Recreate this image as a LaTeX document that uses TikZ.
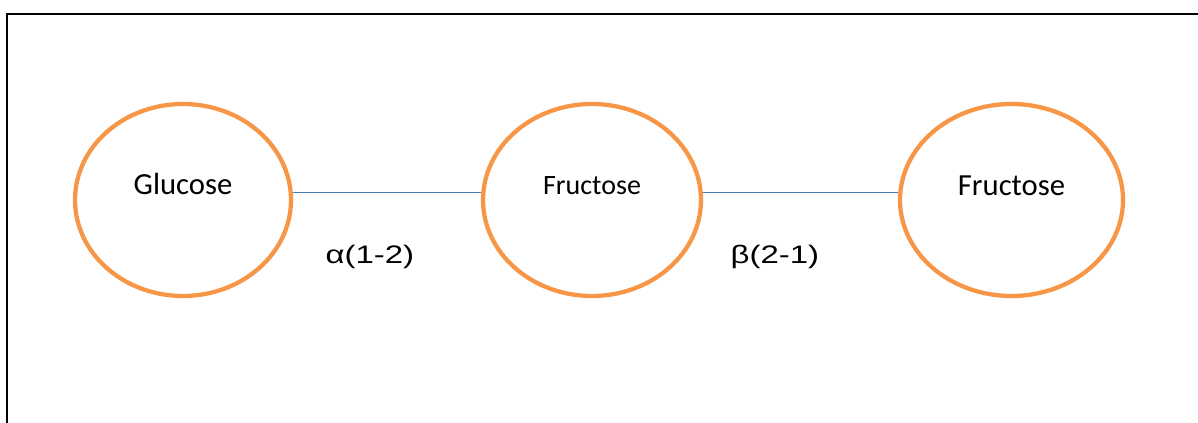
\documentclass[tikz,border=0pt]{standalone}
\usepackage{fontspec}
\setmainfont{Carlito}
\newfontfamily\arialfont{Liberation Sans}
\usetikzlibrary{shapes.geometric}
\definecolor{sugarorange}{HTML}{F79646}
\definecolor{linkblue}{HTML}{4A7EBB}
\newcommand{\widetext}[1]{\scalebox{1.3}[1]{#1}}
\tikzset{
  sugar/.style={shape=ellipse, draw=sugarorange, line width=3.2pt, inner sep=0pt, outer sep=1.6pt, fill=white},
  link/.style={draw=linkblue, line width=1.1pt},
  bondlbl/.style={font=\arialfont\fontsize{19}{22}\selectfont, anchor=base, inner sep=0pt},
  frameline/.style={line width=1.6pt, black},
}
\begin{document}
\begin{tikzpicture}[x=0.75pt,y=-0.75pt]
\useasboundingbox (0,0) rectangle (1198,423);
\clip (0,0) rectangle (1198,423);
\draw[frameline] (6.7,430) -- (6.7,14.2) -- (1210,14.2);
\node[sugar, minimum width=216*0.75pt, minimum height=192*0.75pt,
  label={[yshift=12pt, font=\fontsize{23}{28}\selectfont]center:Glucose}] (g) at (183,200) {};
\node[sugar, minimum width=218*0.75pt, minimum height=192*0.75pt,
  label={[yshift=10.5pt, font=\fontsize{21}{26}\selectfont]center:Fructose}] (f1) at (592,200) {};
\node[sugar, minimum width=223*0.75pt, minimum height=192*0.75pt,
  label={[yshift=10.5pt, font=\fontsize{23}{28}\selectfont]center:Fructose}] (f2) at (1011.5,200) {};
\draw[link] (g.4.2) -- node[bondlbl, pos=0.41, yshift=-53.25pt] {\widetext{α(1-2)}} (g.4.2 -| f1.west);
\draw[link] (f1.4.2) -- node[bondlbl, pos=0.37, yshift=-53.25pt] {\widetext{β(2-1)}} (f1.4.2 -| f2.west);
\end{tikzpicture}
\end{document}
